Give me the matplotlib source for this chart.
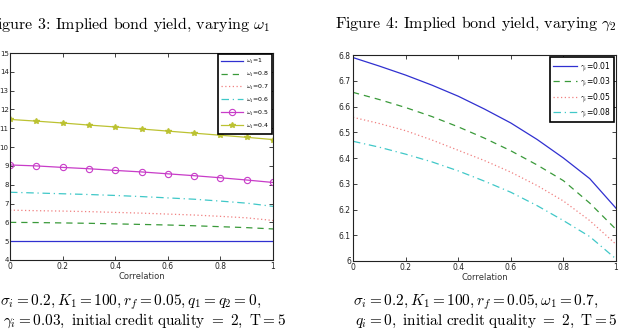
import matplotlib
matplotlib.use("Agg")
import matplotlib.pyplot as plt
import numpy as np

plt.rcParams['mathtext.fontset'] = 'cm'
plt.rcParams['font.family'] = ['DejaVu Sans']
plt.rcParams['axes.unicode_minus'] = False

corr = [0.0, 0.1, 0.2, 0.3, 0.4, 0.5, 0.6, 0.7, 0.8, 0.9, 1.0]

# Figure 3: varying omega_1
omega_labels = [r'$\omega_1$=1', r'$\omega_1$=0.8', r'$\omega_1$=0.7',
                r'$\omega_1$=0.6', r'$\omega_1$=0.5', r'$\omega_1$=0.4']
w_1 = [5.0, 5.0, 5.0, 5.0, 5.0, 5.0, 5.0, 5.0, 5.0, 5.0, 5.0]
w_08 = [6.0, 5.99, 5.97, 5.95, 5.92, 5.89, 5.86, 5.82, 5.77, 5.72, 5.65]
w_07 = [6.65, 6.62, 6.60, 6.57, 6.53, 6.49, 6.44, 6.39, 6.32, 6.24, 6.10]
w_06 = [7.60, 7.56, 7.52, 7.48, 7.43, 7.37, 7.30, 7.23, 7.13, 7.02, 6.85]
w_05 = [9.05, 9.00, 8.92, 8.85, 8.76, 8.68, 8.58, 8.48, 8.37, 8.25, 8.12]
w_04 = [11.47, 11.38, 11.28, 11.17, 11.07, 10.96, 10.85, 10.74, 10.63, 10.52, 10.40]

# Figure 4: varying gamma_i
gamma_labels = [r'$\gamma_i$=0.01', r'$\gamma_i$=0.03', r'$\gamma_i$=0.05', r'$\gamma_i$=0.08']
g_001 = [6.79, 6.757, 6.722, 6.683, 6.640, 6.590, 6.536, 6.472, 6.400, 6.320, 6.205]
g_003 = [6.655, 6.627, 6.596, 6.561, 6.521, 6.477, 6.428, 6.373, 6.312, 6.225, 6.123]
g_005 = [6.558, 6.534, 6.506, 6.470, 6.430, 6.390, 6.345, 6.293, 6.233, 6.157, 6.065]
g_008 = [6.465, 6.442, 6.415, 6.385, 6.350, 6.310, 6.267, 6.215, 6.157, 6.095, 6.008]

W, H = 619, 334
fig = plt.figure(figsize=(W / 100, H / 100), dpi=100)

def box(x0, y0, x1, y1):
    return [x0 / W, 1 - y1 / H, (x1 - x0) / W, (y1 - y0) / H]

ax1 = fig.add_axes(box(10, 53, 273, 260))
ax2 = fig.add_axes(box(353, 55, 616, 261))

blue = '#3030d0'
green = '#3a9a3a'
pink = '#f08080'
cyan = '#40c8c8'
mag = '#c83cc8'
olive = '#bcc232'

ax1.plot(corr, w_1, color=blue, lw=0.9, label=omega_labels[0])
ax1.plot(corr, w_08, color=green, lw=0.9, ls=(0, (5, 4)), label=omega_labels[1])
ax1.plot(corr, w_07, color=pink, lw=0.9, ls=(0, (1, 2)), label=omega_labels[2])
ax1.plot(corr, w_06, color=cyan, lw=0.9, ls=(0, (6, 3, 1, 3)), label=omega_labels[3])
ax1.plot(corr, w_05, color=mag, lw=0.9, marker='o', ms=4.5, mfc='none', mew=0.8, label=omega_labels[4])
ax1.plot(corr, w_04, color=olive, lw=0.9, marker='*', ms=4, label=omega_labels[5])
ax1.set_xlim(0, 1)
ax1.set_ylim(4, 15)
ax1.set_yticks(np.arange(4, 16, 1))
ax1.set_xticks([0, 0.2, 0.4, 0.6, 0.8, 1])
ax1.set_xticklabels(['0', '0.2', '0.4', '0.6', '0.8', '1'])

ax2.plot(corr, g_001, color=blue, lw=0.9, label=gamma_labels[0])
ax2.plot(corr, g_003, color=green, lw=0.9, ls=(0, (5, 4)), label=gamma_labels[1])
ax2.plot(corr, g_005, color=pink, lw=0.9, ls=(0, (1, 2)), label=gamma_labels[2])
ax2.plot(corr, g_008, color=cyan, lw=0.9, ls=(0, (6, 3, 1, 3)), label=gamma_labels[3])
ax2.set_xlim(0, 1)
ax2.set_ylim(6, 6.8)
ax2.set_yticks([6.0, 6.1, 6.2, 6.3, 6.4, 6.5, 6.6, 6.7, 6.8])
ax2.set_yticklabels(['6', '6.1', '6.2', '6.3', '6.4', '6.5', '6.6', '6.7', '6.8'])
ax2.set_xticks([0, 0.2, 0.4, 0.6, 0.8, 1])
ax2.set_xticklabels(['0', '0.2', '0.4', '0.6', '0.8', '1'])

for ax in (ax1, ax2):
    ax.tick_params(direction='in', length=3, width=0.6, labelsize=5.5,
                   top=True, right=True, pad=1.5, colors='#222222')
    for s in ax.spines.values():
        s.set_linewidth(0.8)
        s.set_color('#222222')
    ax.set_xlabel('Correlation', fontsize=6, labelpad=1, color='#333333')
ax1.tick_params(axis='y', labelsize=5.0, pad=1.0)

leg1 = ax1.legend(loc='upper right', fontsize=4.5, handlelength=3.6, labelspacing=0.62,
                  fancybox=False, framealpha=1, edgecolor='black', borderaxespad=0.1,
                  handletextpad=0.4, borderpad=0.5)
leg1.get_frame().set_linewidth(1.2)
leg2 = ax2.legend(loc='upper right', fontsize=5.5, handlelength=3.2, labelspacing=0.35,
                  fancybox=False, framealpha=1, edgecolor='black', borderaxespad=0.3,
                  handletextpad=0.3, borderpad=0.4)
leg2.get_frame().set_linewidth(1.2)

# Titles
fig.text(-13 / W, 1 - 25 / H, r'Figure 3: Implied bond yield, varying $\omega_1$',
         fontsize=11.5, va='center', ha='left', family='cmr10')
fig.text(335 / W, 1 - 24 / H, r'Figure 4: Implied bond yield, varying $\gamma_2$',
         fontsize=11.5, va='center', ha='left', family='cmr10')

# Captions
fig.text(0 / W, 1 - 302 / H, r'$\sigma_i = 0.2, K_1 = 100, r_f = 0.05, q_1 = q_2 = 0,$',
         fontsize=11, va='center', ha='left')
fig.text(3 / W, 1 - 321 / H, r'$\gamma_i = 0.03,\ \mathrm{initial\ credit\ quality\ =\ 2,\ T{=}5}$',
         fontsize=11, va='center', ha='left')
fig.text(353 / W, 1 - 302 / H, r'$\sigma_i = 0.2, K_1 = 100, r_f = 0.05, \omega_1 = 0.7,$',
         fontsize=11, va='center', ha='left')
fig.text(355 / W, 1 - 321 / H, r'$q_i = 0,\ \mathrm{initial\ credit\ quality\ =\ 2,\ T{=}5}$',
         fontsize=11, va='center', ha='left')

fig.savefig('out.png', dpi=100)
